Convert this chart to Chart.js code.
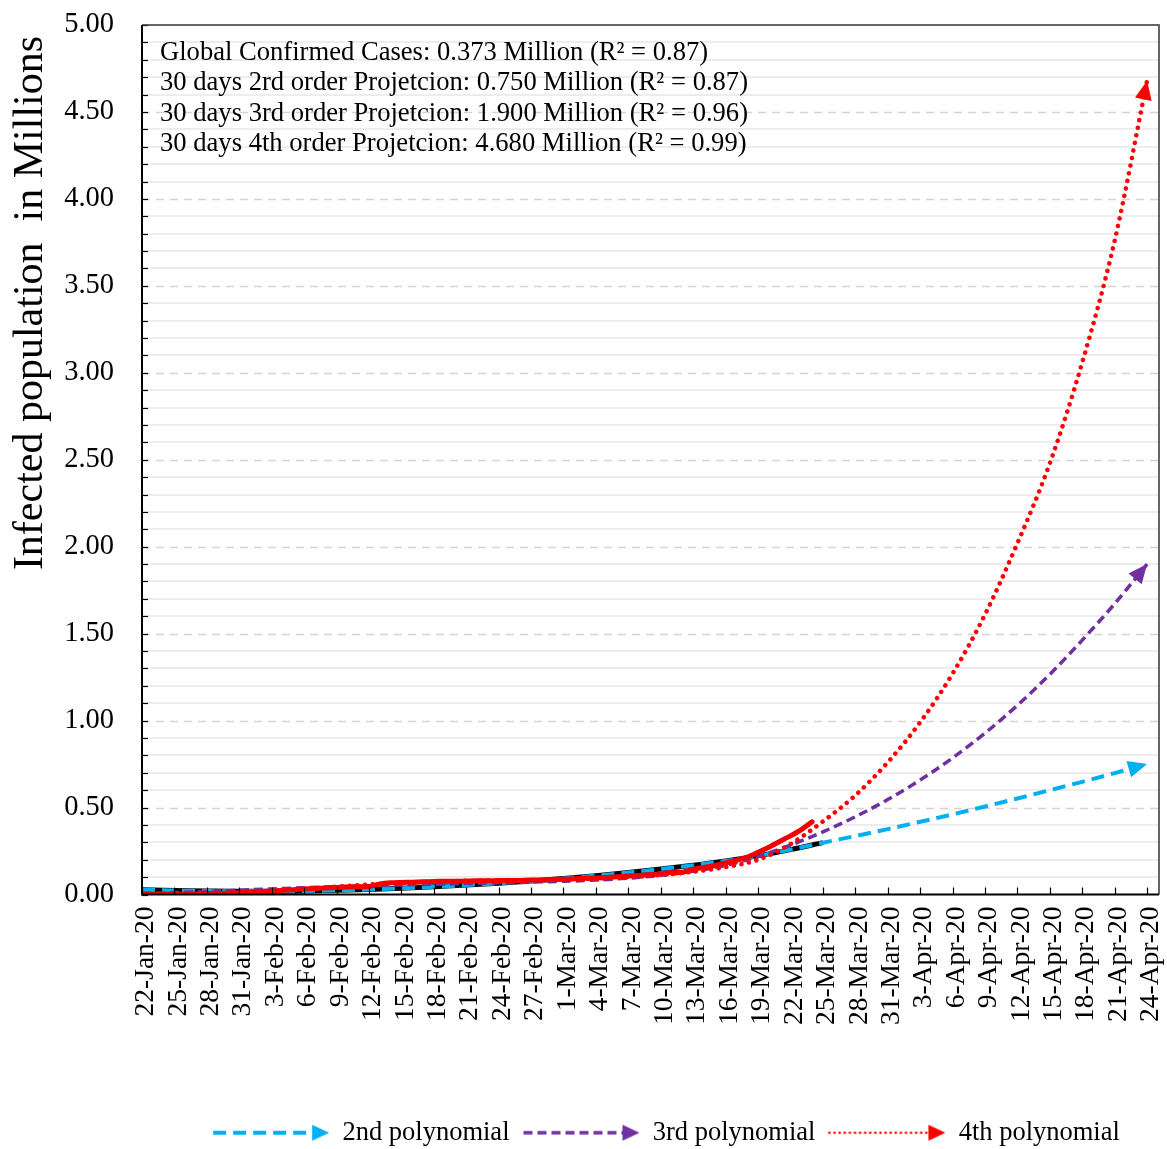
<!DOCTYPE html>
<html>
<head>
<meta charset="utf-8">
<script src="https://cdn.jsdelivr.net/npm/chart.js@4.4.1/dist/chart.umd.min.js"></script>
<style>
  html, body { margin: 0; padding: 0; background: #ffffff; }
  #plot { display: block; }
</style>
</head>
<body>
<canvas id="plot" width="1167" height="1149"></canvas>
<script>
// Date labels on the x axis, one every 3 days starting 22-Jan-20
const dateTicks = ['22-Jan-20','25-Jan-20','28-Jan-20','31-Jan-20','3-Feb-20','6-Feb-20','9-Feb-20',
  '12-Feb-20','15-Feb-20','18-Feb-20','21-Feb-20','24-Feb-20','27-Feb-20','1-Mar-20','4-Mar-20',
  '7-Mar-20','10-Mar-20','13-Mar-20','16-Mar-20','19-Mar-20','22-Mar-20','25-Mar-20','28-Mar-20',
  '31-Mar-20','3-Apr-20','6-Apr-20','9-Apr-20','12-Apr-20','15-Apr-20','18-Apr-20','21-Apr-20','24-Apr-20'];
const daysPerTick = 3;

// Daily global confirmed cases (millions), 22-Jan-20 to 24-Mar-20
const confirmedCases = [
  0.001,0.001,0.001,0.001,0.002,0.003,0.006,0.006,0.008,0.010,
  0.012,0.017,0.020,0.024,0.028,0.031,0.034,0.037,0.040,0.043,0.045,0.045,
  0.060,0.067,0.069,0.071,0.073,0.075,0.076,0.076,0.077,0.079,0.079,0.080,0.080,0.081,0.083,0.084,0.086,
  0.088,0.090,0.093,0.095,0.098,0.102,0.106,0.110,0.114,0.119,0.126,0.128,0.145,0.156,0.167,0.182,
  0.197,0.215,0.243,0.272,0.305,0.337,0.373,0.418];

// Polynomial trend values (millions), one per date tick
const fit2nd = [0.027,0.023,0.020,0.018,0.018,0.020,0.024,0.029,0.036,0.044,0.054,0.065,0.078,0.092,
  0.108,0.126,0.146,0.168,0.193,0.222,0.258,0.298,0.336,0.376,0.418,0.461,0.506,0.552,0.600,0.648,0.698,0.750];
const fit3rd = [0.005,0.011,0.018,0.025,0.032,0.039,0.045,0.050,0.055,0.059,0.063,0.067,0.071,0.076,
  0.083,0.094,0.110,0.134,0.168,0.218,0.284,0.360,0.447,0.546,0.658,0.785,0.928,1.088,1.266,1.463,1.672,1.900];
const fit4th = [0.000,0.000,0.003,0.010,0.020,0.032,0.045,0.057,0.067,0.074,0.079,0.081,0.083,0.086,
  0.091,0.099,0.112,0.131,0.158,0.200,0.290,0.420,0.570,0.760,0.990,1.270,1.610,2.020,2.480,3.060,3.760,4.680];
// number of trend points that lie inside the observed period (through 25-Mar-20)
const observedTickCount = 22;

const yTickLabels = ['0.00','0.50','1.00','1.50','2.00','2.50','3.00','3.50','4.00','4.50','5.00'];
const yMinorPerMajor = 5;

const noteLines = [
  'Global Confirmed Cases: 0.373 Million (R\u00B2 = 0.87)',
  '30 days 2rd order Projetcion: 0.750 Million (R\u00B2 = 0.87)',
  '30 days 3rd order Projetcion: 1.900 Million (R\u00B2 = 0.96)',
  '30 days 4th order Projetcion: 4.680 Million (R\u00B2 = 0.99)'
];
const yTitle = 'Infected population  in Millions';
const legendNames = ['2nd polynomial', '3rd polynomial', '4th polynomial'];

const SERIF = "'Liberation Serif', 'Times New Roman', Times, serif";
Chart.defaults.font.family = SERIF;
Chart.defaults.color = '#000';

const COL2 = '#00b0f0', COL3 = '#7030a0', COL4 = '#ff0000', COLDATA = '#f20000';

const trendPoints = arr => arr.map((v, i) => ({ x: i * daysPerTick, y: v }));
const dailyPoints = arr => arr.map((v, i) => ({ x: i, y: v }));

function drawArrowHead(ctx, fromX, fromY, tipX, tipY, len, halfW, color) {
  const ang = Math.atan2(tipY - fromY, tipX - fromX);
  ctx.save();
  ctx.translate(tipX, tipY);
  ctx.rotate(ang);
  ctx.beginPath();
  ctx.moveTo(0, 0);
  ctx.lineTo(-len, -halfW);
  ctx.lineTo(-len, halfW);
  ctx.closePath();
  ctx.fillStyle = color;
  ctx.fill();
  ctx.restore();
}

// small line + arrow sample used as legend symbol
function legendSymbol(color, dash, width, cap) {
  const c = document.createElement('canvas');
  c.width = 118; c.height = 24;
  const g = c.getContext('2d');
  g.strokeStyle = color;
  g.lineWidth = width;
  g.lineCap = cap;
  g.setLineDash(dash);
  g.beginPath();
  g.moveTo(2, 12);
  g.lineTo(104, 12);
  g.stroke();
  drawArrowHead(g, 0, 12, 118, 12, 17, 8, color);
  return c;
}

const symbols = [
  legendSymbol(COL2, [13, 7], 4, 'butt'),
  legendSymbol(COL3, [9, 5], 3.5, 'butt'),
  legendSymbol(COL4, [0.1, 5], 2.6, 'round')
];

const decor = {
  id: 'decor',
  afterLayout(chart) {
    const lg = chart.legend;
    if (lg) { lg.left += 15; lg.right += 15; }
  },
  beforeDatasetsDraw(chart) {
    const { ctx, chartArea: a, scales: { y } } = chart;
    ctx.save();
    ctx.strokeStyle = '#d4d4d4';
    ctx.lineWidth = 1.3;
    ctx.setLineDash([8, 6]);
    for (let i = 1; i < yTickLabels.length - 1; i++) {
      const py = Math.round(y.getPixelForValue(i / 2)) + 0.5;
      ctx.beginPath();
      ctx.moveTo(a.left, py);
      ctx.lineTo(a.right, py);
      ctx.stroke();
    }
    ctx.restore();
  },
  afterDatasetsDraw(chart) {
    const { ctx, chartArea: a, scales: { x, y } } = chart;
    // arrow heads at the end of projection curves
    chart.data.datasets.forEach((ds, i) => {
      if (!ds.arrowHead) return;
      const pts = chart.getDatasetMeta(i).data;
      const p = pts[pts.length - 1];
      const q = pts[pts.length - 2];
      const useCp = p.cp1x !== undefined && p.cp1x !== p.x;
      drawArrowHead(ctx, useCp ? p.cp1x : q.x, useCp ? p.cp1y : q.y, p.x, p.y, 19, 8.5, ds.borderColor);
    });
    ctx.save();
    // tick marks pointing into the plot
    ctx.strokeStyle = '#000';
    ctx.lineWidth = 1.2;
    y.ticks.forEach(t => {
      const py = Math.round(y.getPixelForValue(t.value)) + 0.5;
      ctx.beginPath(); ctx.moveTo(a.left, py); ctx.lineTo(a.left + 6, py); ctx.stroke();
    });
    x.ticks.forEach(t => {
      const px = Math.round(x.getPixelForValue(t.value)) + 0.5;
      ctx.beginPath(); ctx.moveTo(px, a.bottom); ctx.lineTo(px, a.bottom - 7); ctx.stroke();
    });
    // plot frame
    ctx.strokeStyle = '#333';
    ctx.lineWidth = 1.5;
    ctx.beginPath();
    ctx.moveTo(a.left, a.top); ctx.lineTo(a.right, a.top); ctx.lineTo(a.right, a.bottom);
    ctx.stroke();
    ctx.strokeStyle = '#000';
    ctx.lineWidth = 2;
    ctx.beginPath();
    ctx.moveTo(a.left, a.top); ctx.lineTo(a.left, a.bottom); ctx.lineTo(a.right, a.bottom);
    ctx.stroke();
    ctx.restore();
  },
  afterDraw(chart) {
    const { ctx, chartArea: a } = chart;
    ctx.save();
    ctx.fillStyle = '#000';
    ctx.font = '26.6px ' + SERIF;
    ctx.textAlign = 'left';
    ctx.textBaseline = 'middle';
    noteLines.forEach((s, i) => ctx.fillText(s, a.left + 18, 53 + i * 30.5));
    ctx.translate(31, 303);
    ctx.rotate(-Math.PI / 2);
    ctx.font = '42px ' + SERIF;
    ctx.textAlign = 'center';
    ctx.fillText(yTitle, 0, 0);
    ctx.restore();
  }
};

new Chart(document.getElementById('plot'), {
  type: 'line',
  data: {
    datasets: [
      { label: 'Trend (observed period)', data: trendPoints(fit2nd.slice(0, observedTickCount)),
        borderColor: '#000', borderWidth: 5, cubicInterpolationMode: 'monotone', order: 5 },
      { label: legendNames[0], data: trendPoints(fit2nd), borderColor: COL2, borderWidth: 4,
        borderDash: [13, 7], cubicInterpolationMode: 'monotone', order: 4, arrowHead: true },
      { label: legendNames[1], data: trendPoints(fit3rd), borderColor: COL3, borderWidth: 3.5,
        borderDash: [9, 5], cubicInterpolationMode: 'monotone', order: 3, arrowHead: true },
      { label: 'Confirmed cases', data: dailyPoints(confirmedCases), borderColor: COLDATA, borderWidth: 5,
        tension: 0.2, borderCapStyle: 'round', borderJoinStyle: 'round', order: 2 },
      { label: legendNames[2], data: trendPoints(fit4th), borderColor: COL4, borderWidth: 4.5,
        borderDash: [0.1, 7.6], borderCapStyle: 'round', cubicInterpolationMode: 'monotone', order: 1, arrowHead: true }
    ]
  },
  options: {
    responsive: false,
    animation: false,
    devicePixelRatio: 1,
    layout: { padding: { left: 0, right: 8, top: 25, bottom: -7 } },
    elements: { point: { radius: 0, hoverRadius: 0 } },
    plugins: {
      tooltip: { enabled: false },
      legend: {
        position: 'bottom',
        fullSize: false,
        align: 'center',
        onClick: null,
        labels: {
          usePointStyle: true,
          pointStyleWidth: 118,
          padding: 12,
          color: '#000',
          font: { size: 26.5, family: SERIF },
          generateLabels: () => legendNames.map((name, i) => ({
            text: name, pointStyle: symbols[i], datasetIndex: i + 1,
            fillStyle: 'rgba(0,0,0,0)', strokeStyle: 'rgba(0,0,0,0)', lineWidth: 0, hidden: false
          }))
        }
      }
    },
    scales: {
      x: {
        type: 'linear',
        min: 0,
        max: 94.1,
        afterBuildTicks: s => { s.ticks = dateTicks.map((_, i) => ({ value: i * daysPerTick })); },
        afterFit: s => { s.height = 213; s.paddingLeft = 0; s.paddingRight = 0; },
        grid: { display: false, drawTicks: false },
        border: { display: false },
        ticks: {
          autoSkip: false, minRotation: 90, maxRotation: 90, padding: 12, labelOffset: 4, color: '#000',
          font: { size: 27.5, family: SERIF },
          callback: v => dateTicks[Math.round(v / daysPerTick)]
        }
      },
      y: {
        min: 0,
        max: 5,
        afterBuildTicks: s => {
          const n = (yTickLabels.length - 1) * yMinorPerMajor;
          s.ticks = Array.from({ length: n + 1 }, (_, i) => ({ value: i / (yMinorPerMajor * 2) }));
        },
        afterFit: s => { s.width = 142; s.paddingTop = 0; s.paddingBottom = 0; },
        grid: {
          drawTicks: false,
          lineWidth: 2,
          color: c => (c.index % yMinorPerMajor === 0 ? 'rgba(0,0,0,0)' : '#ededed')
        },
        border: { display: false },
        ticks: {
          autoSkip: false, padding: 28, color: '#000',
          font: { size: 28.5, family: SERIF },
          callback: (v, i) => (i % yMinorPerMajor === 0 ? yTickLabels[i / yMinorPerMajor] : '')
        }
      }
    }
  },
  plugins: [decor]
});
</script>
</body>
</html>
